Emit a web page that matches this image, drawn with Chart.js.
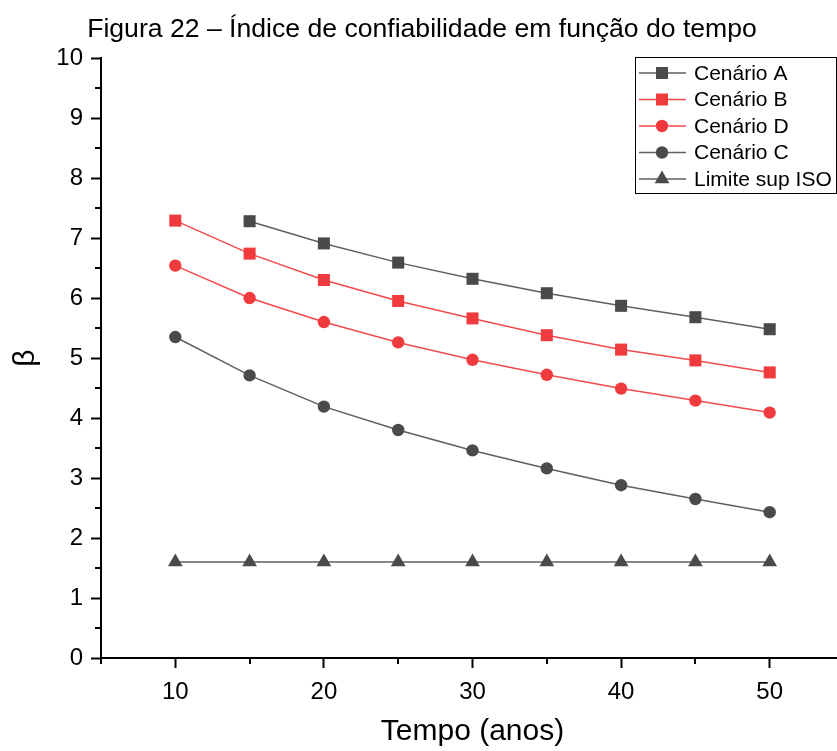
<!DOCTYPE html>
<html>
<head>
<meta charset="utf-8">
<title>Índice de confiabilidade</title>
<script src="https://cdn.jsdelivr.net/npm/chart.js@4/dist/chart.umd.min.js"></script>
<style>
  html, body { margin: 0; padding: 0; background: #fff; overflow: hidden; }
  #wrap { width: 860px; height: 751px; }
</style>
</head>
<body>
<div id="wrap"><canvas id="betaChart" width="860" height="751"></canvas></div>
<script>
const fonte = "'Liberation Sans', Arial, sans-serif";

const anos = [10, 15, 20, 25, 30, 35, 40, 45, 50];
const cenarioA = [null, 7.28, 6.91, 6.59, 6.32, 6.08, 5.87, 5.68, 5.48];
const cenarioB = [7.29, 6.74, 6.30, 5.95, 5.66, 5.38, 5.14, 4.96, 4.76];
const cenarioD = [6.54, 6.00, 5.60, 5.26, 4.97, 4.72, 4.49, 4.29, 4.09];
const cenarioC = [5.35, 4.71, 4.19, 3.80, 3.46, 3.16, 2.88, 2.65, 2.43];
const limiteISO = [1.6, 1.6, 1.6, 1.6, 1.6, 1.6, 1.6, 1.6, 1.6];

const xTicks = [10, 20, 30, 40, 50];
const xMinor = [5, 15, 25, 35, 45, 55];
const yTicks = [0, 1, 2, 3, 4, 5, 6, 7, 8, 9, 10];
const yMinor = [0.5, 1.5, 2.5, 3.5, 4.5, 5.5, 6.5, 7.5, 8.5, 9.5];

const cinza = "#4a4a4a";
const cinzaLinha = "#5f5f5f";
const vermelho = "#ef3a3e";
const vermelhoLinha = "#f24a4d";

function pares(valores) {
    return anos.map((a, i) => ({ x: a, y: valores[i] }));
}

function serie(label, valores, cor, corLinha, estilo, raio) {
    return {
        label: label,
        data: pares(valores),
        borderColor: corLinha,
        backgroundColor: cor,
        borderWidth: 1.5,
        pointStyle: estilo,
        pointRadius: raio,
        pointHoverRadius: raio,
        pointBorderWidth: 0,
        pointBackgroundColor: cor,
        tension: 0
    };
}

// minor ticks on both axes
const minorTicks = {
    id: 'minorTicks',
    afterDraw(chart) {
        const ctx = chart.ctx;
        const area = chart.chartArea;
        const x = chart.scales.x;
        const y = chart.scales.y;
        ctx.save();
        ctx.strokeStyle = '#000';
        ctx.lineWidth = 2;
        ctx.beginPath();
        xMinor.forEach(v => {
            const px = Math.round(x.getPixelForValue(v));
            ctx.moveTo(px, area.bottom);
            ctx.lineTo(px, area.bottom + 6);
        });
        yMinor.forEach(v => {
            const py = Math.round(y.getPixelForValue(v));
            ctx.moveTo(area.left, py);
            ctx.lineTo(area.left - 6, py);
        });
        ctx.stroke();
        ctx.restore();
    }
};

// boxed legend with line + marker samples
const legendaCaixa = {
    id: 'legendaCaixa',
    afterDraw(chart, args, opts) {
        const ctx = chart.ctx;
        ctx.save();
        ctx.strokeStyle = '#000';
        ctx.lineWidth = 1;
        ctx.strokeRect(opts.left + 0.5, opts.top + 0.5, opts.width, opts.height);
        ctx.font = opts.fontSize + 'px ' + fonte;
        ctx.textBaseline = 'middle';
        chart.data.datasets.forEach((ds, i) => {
            const cy = opts.top + opts.firstRow + i * opts.rowHeight;
            ctx.strokeStyle = ds.borderColor;
            ctx.lineWidth = 1.5;
            ctx.beginPath();
            ctx.moveTo(opts.left + 4, cy);
            ctx.lineTo(opts.left + 51, cy);
            ctx.stroke();
            ctx.fillStyle = ds.pointBackgroundColor;
            Chart.helpers.drawPoint(ctx, {
                pointStyle: ds.pointStyle, radius: ds.pointRadius, rotation: 0, borderWidth: 0
            }, opts.left + 27, cy);
            ctx.fillStyle = '#000';
            ctx.fillText(ds.label, opts.left + 59, cy + 1);
        });
        ctx.restore();
    }
};

new Chart(document.getElementById('betaChart'), {
    type: 'line',
    data: {
        datasets: [
            serie('Cenário A', cenarioA, cinza, cinzaLinha, 'rect', 8.5),
            serie('Cenário B', cenarioB, vermelho, vermelhoLinha, 'rect', 8.5),
            serie('Cenário D', cenarioD, vermelho, vermelhoLinha, 'circle', 6.2),
            serie('Cenário C', cenarioC, cinza, cinzaLinha, 'circle', 6.2),
            serie('Limite sup ISO', limiteISO, cinza, cinzaLinha, 'triangle', 8.5)
        ]
    },
    options: {
        responsive: false,
        animation: false,
        layout: { padding: { left: 0, right: 16, top: 0, bottom: 0 } },
        plugins: {
            legend: { display: false },
            tooltip: { enabled: false },
            title: {
                display: true,
                text: 'Figura 22 – Índice de confiabilidade em função do tempo',
                color: '#000',
                font: { family: fonte, size: 26.6, weight: 'normal' },
                padding: { top: 14, bottom: 12.1 }
            },
            legendaCaixa: {
                left: 635, top: 57, width: 201, height: 136,
                firstRow: 16, rowHeight: 26.5, fontSize: 21
            }
        },
        scales: {
            x: {
                type: 'linear',
                min: 5,
                max: 55,
                afterBuildTicks: axis => { axis.ticks = xTicks.map(v => ({ value: v })); },
                afterFit: axis => { axis.height = 93; },
                grid: { drawOnChartArea: false, tickLength: 10, tickWidth: 2, tickColor: '#000' },
                border: { color: '#000', width: 2 },
                ticks: { color: '#000', font: { family: fonte, size: 24 }, padding: 10, maxRotation: 0 },
                title: {
                    display: true, text: 'Tempo (anos)', color: '#000',
                    font: { family: fonte, size: 30 }, padding: { top: 0, bottom: 1 }
                }
            },
            y: {
                min: 0,
                max: 10,
                afterBuildTicks: axis => { axis.ticks = yTicks.map(v => ({ value: v })); },
                afterFit: axis => { axis.width = 101; },
                grid: { drawOnChartArea: false, tickLength: 10, tickWidth: 2, tickColor: '#000' },
                border: { color: '#000', width: 2 },
                ticks: { color: '#000', font: { family: fonte, size: 24 }, padding: 8 },
                title: {
                    display: true, text: 'β', color: '#000',
                    font: { family: fonte, size: 30 }, padding: { top: 8, bottom: 0 }
                }
            }
        }
    },
    plugins: [minorTicks, legendaCaixa]
});
</script>
</body>
</html>
